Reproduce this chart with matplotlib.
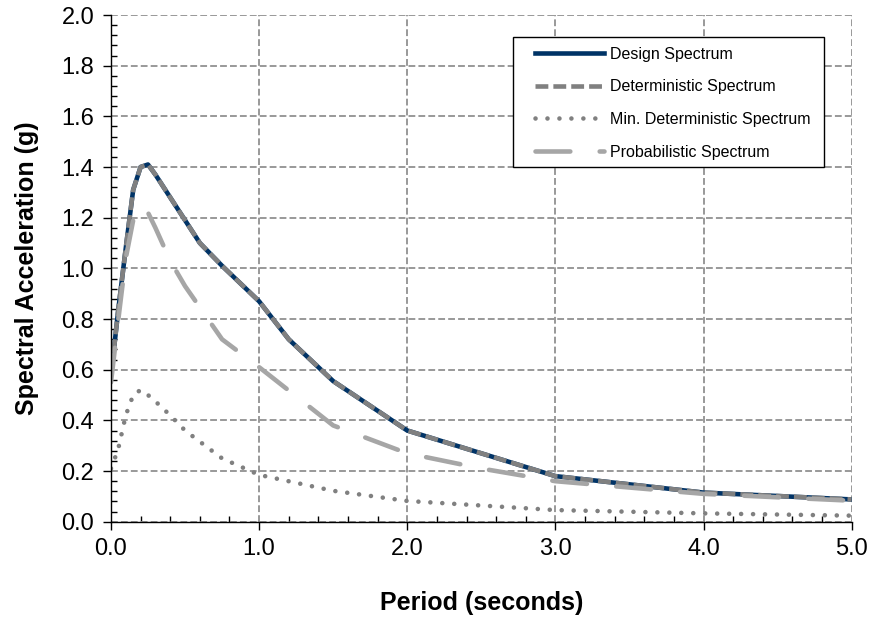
import numpy as np
import matplotlib
matplotlib.use("Agg")
import matplotlib.pyplot as plt
from matplotlib.patches import Rectangle
from matplotlib.ticker import MultipleLocator, FormatStrFormatter

plt.rcParams['font.family'] = ['Liberation Sans', 'DejaVu Sans']

# periods (s) and spectral accelerations (g)
period_det = [0.0, 0.02, 0.05, 0.1, 0.15, 0.2, 0.25, 0.3, 0.4, 0.5, 0.6,
              0.75, 1.0, 1.2, 1.5, 2.0, 3.0, 4.0, 5.0]
design_sa = [0.60, 0.68, 0.84, 1.08, 1.31, 1.40, 1.41, 1.37, 1.28, 1.19, 1.10,
             1.01, 0.87, 0.72, 0.555, 0.36, 0.18, 0.115, 0.088]
determ_sa = design_sa

period_min = [0.0, 0.02, 0.05, 0.1, 0.15, 0.2, 0.25, 0.3, 0.4, 0.5, 0.75,
              1.0, 1.5, 2.0, 3.0, 4.0, 5.0]
min_determ_sa = [0.21, 0.24, 0.29, 0.42, 0.50, 0.52, 0.50, 0.475, 0.42, 0.36,
                 0.25, 0.185, 0.122, 0.082, 0.046, 0.033, 0.024]

period_prob = [0.0, 0.05, 0.1, 0.15, 0.2, 0.25, 0.3, 0.4, 0.5, 0.75, 1.0,
               1.5, 2.0, 2.5, 3.0, 4.0, 5.0]
prob_sa = [0.55, 0.80, 1.04, 1.19, 1.25, 1.22, 1.16, 1.03, 0.93, 0.72, 0.61,
           0.38, 0.27, 0.21, 0.16, 0.11, 0.083]

fig = plt.figure(figsize=(8.8, 6.2), dpi=100)
ax = fig.add_axes([0.1261, 0.1585, 0.8417, 0.8173])

lw = 3.3
ax.plot(period_det, design_sa, color="#003366", lw=lw, label="Design Spectrum",
        solid_joinstyle="round", zorder=3)
ax.plot(period_det, determ_sa, color="#808080", lw=lw, dashes=(2.8, 1.1),
        label="Deterministic Spectrum", zorder=4)
ax.plot(period_min, min_determ_sa, color="#808080", lw=lw, dashes=(0.01, 2.6),
        dash_capstyle="round", label="Min. Deterministic Spectrum", zorder=4)
ax.plot(period_prob, prob_sa, color="#A6A6A6", lw=lw, dashes=(7.6, 6.4),
        dash_capstyle="round", label="Probabilistic Spectrum", zorder=5)

ax.set_xlim(0, 5)
ax.set_ylim(0, 2)
ax.xaxis.set_major_locator(MultipleLocator(1.0))
ax.xaxis.set_minor_locator(MultipleLocator(0.2))
ax.yaxis.set_major_locator(MultipleLocator(0.2))
ax.yaxis.set_minor_locator(MultipleLocator(0.04))
ax.xaxis.set_major_formatter(FormatStrFormatter("%.1f"))
ax.yaxis.set_major_formatter(FormatStrFormatter("%.1f"))
ax.tick_params(which="major", direction="out", length=6, width=1,
               labelsize=17, pad=6)
ax.tick_params(which="minor", direction="in", length=4, width=1)

ax.grid(which="major", color="#999999", lw=1.4, linestyle=(0, (3.5, 1.6)))
ax.set_axisbelow(True)
for s in ["top", "right"]:
    ax.spines[s].set_visible(False)
for s in ["left", "bottom"]:
    ax.spines[s].set_linewidth(1)
    ax.spines[s].set_zorder(6)

ax.set_xlabel("Period (seconds)", fontsize=18, fontweight="bold", labelpad=22)
ax.set_ylabel("Spectral Acceleration (g)", fontsize=18, fontweight="bold",
              labelpad=16)

# legend box drawn separately so the side padding can match
box = Rectangle((0.5427, 0.7006), 0.4199, 0.2564, transform=ax.transAxes,
                facecolor="white", edgecolor="black", lw=1, zorder=9)
ax.add_patch(box)
leg = ax.legend(loc="upper left", bbox_to_anchor=(0.5727, 0.937),
                borderaxespad=0, borderpad=0, fontsize=11.5, frameon=False,
                handlelength=4.3, handletextpad=0.4, labelspacing=1.1)
leg.set_zorder(10)

plt.savefig("out.png", dpi=100)
